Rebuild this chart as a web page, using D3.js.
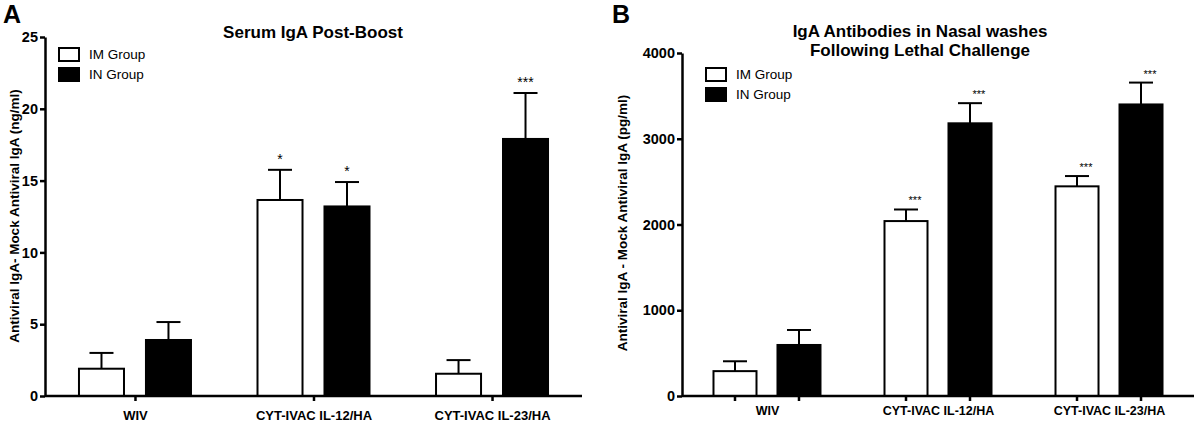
<!DOCTYPE html>
<html>
<head>
<meta charset="utf-8">
<script src="https://cdn.jsdelivr.net/npm/d3@7"></script>
<style>
  body { margin: 0; background: #fff; }
  svg { display: block; font-family: "Liberation Sans", Arial, sans-serif; }
  .axis path, .axis line { stroke: #000; stroke-width: 2.5; }
  .axis text { font-weight: bold; fill: #000; }
</style>
</head>
<body>
<svg id="chart" width="1200" height="427"></svg>
<script>
// categories and groups
var categories = ["WIV", "CYT-IVAC IL-12/HA", "CYT-IVAC IL-23/HA"];
var groups = ["IM Group", "IN Group"];

// panel A - serum IgA (ng/ml)
var serumIM = [1.9, 13.65, 1.55];
var serumIMErr = [1.1, 2.1, 0.95];
var serumIN = [3.9, 13.2, 17.9];
var serumINErr = [1.25, 1.7, 3.2];
var serumStarsIM = ["", "*", ""];
var serumStarsIN = ["", "*", "***"];
var serumTicks = [0, 5, 10, 15, 20, 25];

// panel B - nasal wash IgA (pg/ml)
var nasalIM = [290, 2040, 2445];
var nasalIMErr = [115, 135, 120];
var nasalIN = [595, 3180, 3400];
var nasalINErr = [175, 235, 255];
var nasalStarsIM = ["", "***", "***"];
var nasalStarsIN = ["", "***", "***"];
var nasalTicks = [0, 1000, 2000, 3000, 4000];

var svg = d3.select("#chart");

function rows(im, imErr, imStars, inn, innErr, innStars) {
  var out = [];
  categories.forEach(function (c, i) {
    out.push({cat: c, grp: groups[0], v: im[i], e: imErr[i], s: imStars[i]});
    out.push({cat: c, grp: groups[1], v: inn[i], e: innErr[i], s: innStars[i]});
  });
  return out;
}

function panel(cfg) {
  var g = svg.append("g");
  var x = d3.scalePoint().domain(categories).range([cfg.left, cfg.right]).padding(cfg.pad);
  var sub = d3.scaleBand().domain(groups).range([-cfg.half, cfg.half]).paddingInner(0.328);
  var y = d3.scaleLinear().domain(cfg.domain).range([cfg.bottom, cfg.top]);
  var data = rows.apply(null, cfg.series);
  var cx = function (d) { return x(d.cat) + sub(d.grp) + sub.bandwidth() / 2; };

  // error bars (upper only)
  var eb = g.selectAll(".err").data(data).enter().append("g");
  eb.append("line")
    .attr("x1", cx).attr("x2", cx)
    .attr("y1", function (d) { return y(d.v); })
    .attr("y2", function (d) { return y(d.v + d.e); })
    .attr("stroke", "#000").attr("stroke-width", 2);
  eb.append("line")
    .attr("x1", function (d) { return cx(d) - 12; })
    .attr("x2", function (d) { return cx(d) + 12; })
    .attr("y1", function (d) { return y(d.v + d.e); })
    .attr("y2", function (d) { return y(d.v + d.e); })
    .attr("stroke", "#000").attr("stroke-width", 2);

  // bars
  g.selectAll(".bar").data(data).enter().append("rect")
    .attr("x", function (d) { return x(d.cat) + sub(d.grp); })
    .attr("width", sub.bandwidth())
    .attr("y", function (d) { return y(d.v); })
    .attr("height", function (d) { return y(0) - y(d.v); })
    .attr("fill", function (d) { return d.grp == groups[0] ? "#fff" : "#000"; })
    .attr("stroke", "#000").attr("stroke-width", 2);

  // significance stars
  g.selectAll(".star").data(data.filter(function (d) { return d.s; })).enter().append("text")
    .attr("x", function (d) { return cx(d) + cfg.starDx; })
    .attr("y", function (d) { return y(d.v + d.e) - cfg.starGap; })
    .attr("text-anchor", "middle")
    .attr("font-size", cfg.starSize)
    .text(function (d) { return d.s; });

  // y axis
  var ya = g.append("g").attr("class", "axis")
    .attr("transform", "translate(" + cfg.left + ",0)")
    .call(d3.axisLeft(y).tickValues(cfg.ticks).tickFormat(d3.format("d"))
      .tickSize(5).tickSizeOuter(0).tickPadding(2));
  ya.selectAll("text").attr("font-size", 14.5);

  // x axis
  var xa = g.append("g").attr("class", "axis")
    .attr("transform", "translate(0," + cfg.bottom + ")")
    .call(d3.axisBottom(x).tickSize(cfg.barTicks ? 0 : 5).tickSizeOuter(0).tickPadding(10));
  xa.selectAll("text").attr("font-size", cfg.catSize);
  xa.select(".domain").attr("d", "M" + cfg.left + ",0H" + cfg.right);
  if (cfg.barTicks) {
    xa.selectAll(".bt").data(data).enter().append("line")
      .attr("x1", cx).attr("x2", cx).attr("y1", 0).attr("y2", 5);
  }

  // axis title
  g.append("text")
    .attr("transform", "translate(" + cfg.yLabX + "," + cfg.yLabY + ") rotate(-90)")
    .attr("text-anchor", "middle")
    .attr("font-size", 13.5).attr("font-weight", "bold")
    .text(cfg.yLabel);

  // chart title
  cfg.title.forEach(function (t, i) {
    g.append("text")
      .attr("x", cfg.titleX).attr("y", cfg.titleY + i * 19)
      .attr("text-anchor", "middle")
      .attr("font-size", 17).attr("font-weight", "bold")
      .text(t);
  });

  // panel letter
  g.append("text")
    .attr("x", cfg.letterX).attr("y", 23)
    .attr("font-size", 25).attr("font-weight", "bold")
    .text(cfg.letter);

  // legend
  var lg = g.selectAll(".leg").data(groups).enter().append("g")
    .attr("transform", function (d, i) { return "translate(" + cfg.legX + "," + (cfg.legY + i * 20) + ")"; });
  lg.append("rect")
    .attr("width", 20).attr("height", 13)
    .attr("fill", function (d, i) { return i ? "#000" : "#fff"; })
    .attr("stroke", "#000").attr("stroke-width", 2);
  lg.append("text")
    .attr("x", 30).attr("y", 11)
    .attr("font-size", 13.5)
    .text(function (d) { return d; });
}

panel({
  letter: "A", letterX: 3,
  left: 45, right: 582, pad: 0.504, half: 56,
  top: 37, bottom: 396, domain: [0, 25], ticks: serumTicks,
  series: [serumIM, serumIMErr, serumStarsIM, serumIN, serumINErr, serumStarsIN],
  starDx: 0, starGap: 6, starSize: 14,
  barTicks: false, catSize: 13,
  yLabel: "Antiviral IgA- Mock Antiviral IgA (ng/ml)", yLabX: 19, yLabY: 216,
  title: ["Serum IgA Post-Boost"], titleX: 313, titleY: 38,
  legX: 59, legY: 48
});

panel({
  letter: "B", letterX: 612,
  left: 682, right: 1194, pad: 0.497, half: 53.5,
  top: 53, bottom: 396, domain: [0, 4000], ticks: nasalTicks,
  series: [nasalIM, nasalIMErr, nasalStarsIM, nasalIN, nasalINErr, nasalStarsIN],
  starDx: 9, starGap: 5, starSize: 11,
  barTicks: true, catSize: 12.5,
  yLabel: "Antiviral IgA - Mock Antiviral IgA (pg/ml)", yLabX: 627, yLabY: 223,
  title: ["IgA Antibodies in Nasal washes", "Following Lethal Challenge"], titleX: 920, titleY: 37,
  legX: 706, legY: 68
});
</script>
</body>
</html>
